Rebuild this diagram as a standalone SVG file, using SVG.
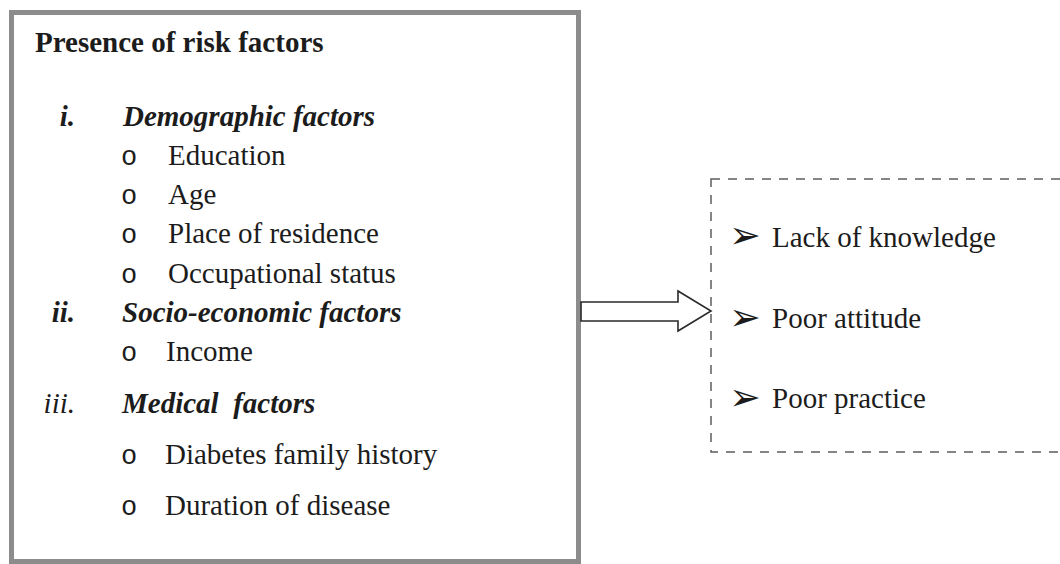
<svg xmlns="http://www.w3.org/2000/svg" width="1060" height="564" viewBox="0 0 1060 564">
<style>
text { font-family: "Liberation Serif", "Times New Roman", serif; font-size: 29px; fill: #1c1c1c; }
.title { font-weight: bold; }
.head { font-weight: bold; font-style: italic; }
.num { font-weight: bold; font-style: italic; text-anchor: end; }
.numr { font-style: italic; text-anchor: end; }
.bul { font-family: "Liberation Mono", "Courier New", monospace; font-size: 27px; }
.arr { font-family: "DejaVu Sans", sans-serif; font-size: 38px; }
.frame { fill: #ffffff; stroke: #8c8c8c; stroke-width: 5; }
.dash { fill: none; stroke: #5e5e5e; stroke-width: 1.5; stroke-dasharray: 9 8; }
.conn { fill: #ffffff; stroke: #2a2a2a; stroke-width: 1.6; stroke-linejoin: miter; }
</style>
<rect width="1060" height="564" fill="#ffffff"/>
<g id="risk-factors">
  <rect class="frame" x="11.5" y="12.5" width="567" height="549"/>
  <text class="title" x="35" y="52">Presence of risk factors</text>
  <text class="num" x="75" y="126">i.</text>
  <text class="head" x="123" y="126">Demographic factors</text>
  <text class="bul" x="121" y="165">o</text>
  <text x="168" y="165">Education</text>
  <text class="bul" x="121" y="204">o</text>
  <text x="168" y="204">Age</text>
  <text class="bul" x="121" y="243">o</text>
  <text x="168" y="243">Place of residence</text>
  <text class="bul" x="121" y="283">o</text>
  <text x="168" y="283">Occupational status</text>
  <text class="num" x="75" y="322">ii.</text>
  <text class="head" x="122" y="322">Socio-economic factors</text>
  <text class="bul" x="121" y="361">o</text>
  <text x="166" y="361">Income</text>
  <text class="numr" x="75" y="413">iii.</text>
  <text class="head" x="122" y="413" xml:space="preserve">Medical  factors</text>
  <text class="bul" x="121" y="464">o</text>
  <text x="165" y="464">Diabetes family history</text>
  <text class="bul" x="121" y="515">o</text>
  <text x="165" y="515">Duration of disease</text>
</g>
<g id="outcomes">
  <rect class="dash" x="711" y="179" width="360" height="273"/>
  <text class="arr" x="729" y="248">➢</text>
  <text x="772" y="247">Lack of knowledge</text>
  <text class="arr" x="729" y="330">➢</text>
  <text x="772" y="328">Poor attitude</text>
  <text class="arr" x="729" y="410">➢</text>
  <text x="772" y="408">Poor practice</text>
</g>
<g id="connectors">
  <polygon class="conn" points="581,302 678,302 678,291 711,311 678,331 678,321 581,321"/>
</g>
</svg>
